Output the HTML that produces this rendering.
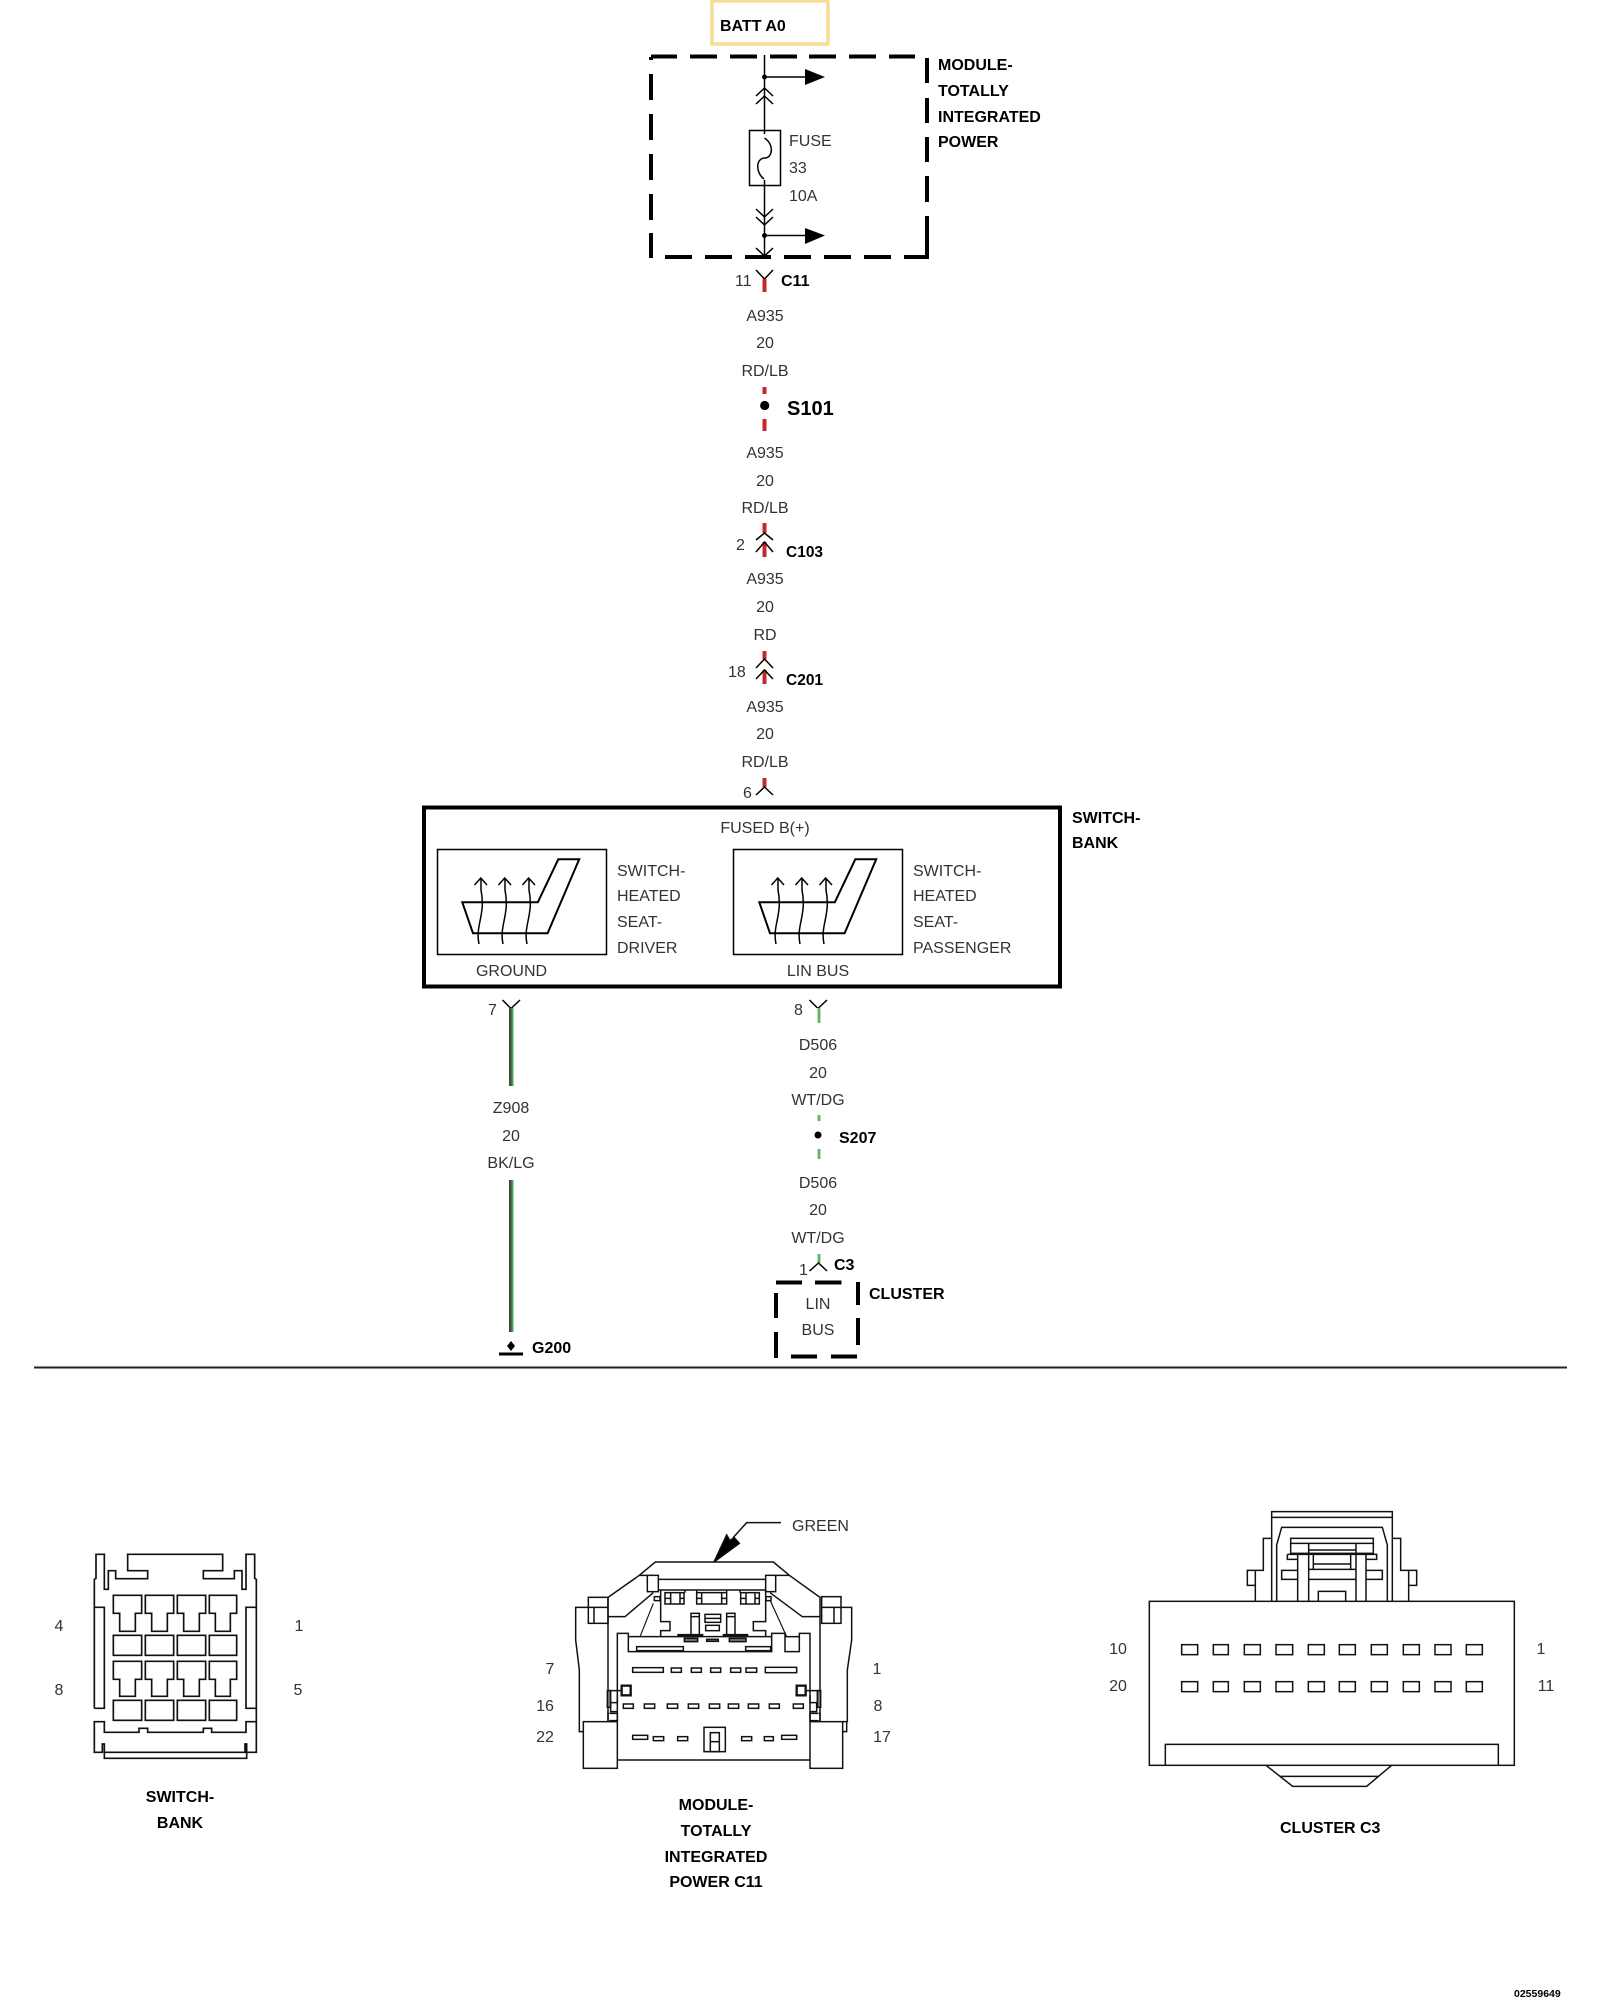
<!DOCTYPE html>
<html><head><meta charset="utf-8"><style>
html,body{margin:0;padding:0;background:#fff}
svg{display:block}
text{font-family:"Liberation Sans",sans-serif}
.r{font-size:16px;fill:#333}
.b{font-size:16px;font-weight:bold;fill:#000}
.m{text-anchor:middle}
.l{fill:none;stroke:#000;stroke-width:1.5}
.d{fill:none;stroke:#000;stroke-width:4}
.red{stroke:#c4282c;stroke-width:4;fill:none}
.pg{stroke:#bcdcbc;stroke-width:4;fill:none}
.g{stroke:#4aa552;stroke-width:1.5;fill:none}
.c{fill:none;stroke:#111;stroke-width:5;stroke-linejoin:miter}
</style></head><body>
<svg width="1600" height="2000" viewBox="0 0 1600 2000" xmlns="http://www.w3.org/2000/svg">
<rect width="1600" height="2000" fill="#fff"/>

<!-- BATT -->
<rect x="712" y="1" width="116" height="43" fill="#fff" stroke="#f6dd95" stroke-width="3.5"/>
<text class="b" x="720" y="31">BATT A0</text>

<!-- Module dashed -->
<path class="d" d="M651 56.5H677M690 56.5H717M730 56.5H757M770 56.5H797M809 56.5H836M849 56.5H876M889 56.5H915"/>
<path class="d" d="M651 57V60M651 74V100M651 114V140M651 154V180M651 194V220M651 233V258"/>
<path class="d" d="M665 257H692M705 257H732M745 257H771M784 257H811M824 257H851M864 257H891M904 257H929"/>
<path class="d" d="M927 58V83M927 98V123M927 137V162M927 176V202M927 216V258"/>
<text class="b" x="938" y="70">MODULE-</text>
<text class="b" x="938" y="96">TOTALLY</text>
<text class="b" x="938" y="122">INTEGRATED</text>
<text class="b" x="938" y="147">POWER</text>

<!-- Fuse assembly -->
<path class="l" d="M764.5 55V134M764.5 180V256"/>
<circle cx="764.5" cy="77" r="2.5"/><circle cx="764.5" cy="235.5" r="2.5"/>
<path class="l" d="M764.5 77H806M764.5 235.5H806"/>
<path d="M805 69L825 77L805 85Z"/><path d="M805 228L825 235.5L805 244Z"/>
<path class="l" d="M756 96L764.5 88L773 96M756 104L764.5 96L773 104"/>
<path class="l" d="M756 209L764.5 217L773 209M756 217L764.5 225L773 217"/>
<path class="l" d="M756 248L764.5 256L773 248"/>
<rect class="l" x="749.5" y="130.5" width="31" height="55"/>
<path class="l" d="M764.5 138C775 145 772 158 765 158C756 158 755 172 764 179"/>
<text class="r" x="789" y="146">FUSE</text>
<text class="r" x="789" y="173">33</text>
<text class="r" x="789" y="201">10A</text>

<!-- Main red wire -->
<path class="l" d="M756 270L764.5 279L773 270"/>
<path class="red" d="M764.5 279V292M764.5 387V394M764.5 419V431M764.5 523V533M764.5 542V557M764.5 651V659M764.5 670V684M764.5 778V787"/>
<text class="r" x="735" y="286">11</text><text class="b" x="781" y="286">C11</text>
<text class="r m" x="765" y="321">A935</text>
<text class="r m" x="765" y="348">20</text>
<text class="r m" x="765" y="376">RD/LB</text>
<circle cx="764.7" cy="405.5" r="4.6"/>
<text x="787" y="415" style="font-size:20px;font-weight:bold">S101</text>
<text class="r m" x="765" y="458">A935</text>
<text class="r m" x="765" y="486">20</text>
<text class="r m" x="765" y="513">RD/LB</text>
<path class="l" d="M756 540L764.5 533L773 540M756 552L764.5 542L773 552"/>
<text class="r" x="736" y="550">2</text>
<text class="b" x="786" y="557" style="font-size:15.5px">C103</text>
<text class="r m" x="765" y="584">A935</text>
<text class="r m" x="765" y="612">20</text>
<text class="r m" x="765" y="640">RD</text>
<path class="l" d="M756 668L764.5 659L773 668M756 679L764.5 670L773 679"/>
<text class="r" x="728" y="677">18</text>
<text class="b" x="786" y="685" style="font-size:15.5px">C201</text>
<text class="r m" x="765" y="712">A935</text>
<text class="r m" x="765" y="739">20</text>
<text class="r m" x="765" y="767">RD/LB</text>
<path class="l" d="M756 795L764.5 787L773 795"/>
<text class="r" x="743" y="798">6</text>

<!-- Switch bank box -->
<rect x="424" y="807.500" width="636" height="179" fill="none" stroke="#000" stroke-width="4"/>
<text class="r m" x="765" y="833">FUSED B(+)</text>
<text class="b" x="1072" y="823">SWITCH-</text>
<text class="b" x="1072" y="848">BANK</text>
<rect class="l" x="437.500" y="849.500" width="169" height="105"/>
<rect class="l" x="733.500" y="849.500" width="169" height="105"/>
<g transform="translate(-1 0)">
<path fill="none" stroke="#000" stroke-width="2" d="M463.3 902.3H538.800L559.300 859.300H580.200L548.600 933.300H474Z"/>
<path class="l" d="M480 944C476 925 487 915 482 890V878M475.500 885L481.800 878L488 885"/>
<path class="l" d="M504 944C500 925 511 915 506 890V878M499.500 885L505.700 878L512 885"/>
<path class="l" d="M528 944C524 925 535 915 530 890V878M523.500 885L529.600 878L536 885"/>
</g>
<g transform="translate(296 0)">
<path fill="none" stroke="#000" stroke-width="2" d="M463.3 902.3H538.800L559.300 859.300H580.200L548.600 933.300H474Z"/>
<path class="l" d="M480 944C476 925 487 915 482 890V878M475.500 885L481.800 878L488 885"/>
<path class="l" d="M504 944C500 925 511 915 506 890V878M499.500 885L505.700 878L512 885"/>
<path class="l" d="M528 944C524 925 535 915 530 890V878M523.500 885L529.600 878L536 885"/>
</g>
<text class="r" x="617" y="876">SWITCH-</text>
<text class="r" x="617" y="901">HEATED</text>
<text class="r" x="617" y="927">SEAT-</text>
<text class="r" x="617" y="953">DRIVER</text>
<text class="r" x="913" y="876">SWITCH-</text>
<text class="r" x="913" y="901">HEATED</text>
<text class="r" x="913" y="927">SEAT-</text>
<text class="r" x="913" y="953">PASSENGER</text>
<text class="r m" x="511.500" y="976">GROUND</text>
<text class="r m" x="818" y="976">LIN BUS</text>

<!-- Ground wire -->
<path class="l" d="M502.500 1000L511 1008.500L520 1000"/>
<text class="r" x="488" y="1015">7</text>
<rect x="509" y="1008" width="2.500" height="78" fill="#3f4a40"/><rect x="511.500" y="1008" width="2" height="78" fill="#4aa552"/>
<text class="r m" x="511" y="1113">Z908</text>
<text class="r m" x="511" y="1141">20</text>
<text class="r m" x="511" y="1168">BK/LG</text>
<rect x="509" y="1180" width="2.500" height="152" fill="#3f4a40"/><rect x="511.500" y="1180" width="2" height="152" fill="#4aa552"/>
<path d="M511 1341L515 1346L511 1351L507 1346Z"/>
<path d="M499 1354H523" stroke="#000" stroke-width="3"/>
<text class="b" x="532" y="1353">G200</text>

<!-- LIN wire -->
<path class="l" d="M809.500 1000L818 1008.500L827 1000"/>
<path class="pg" d="M819 1008V1023M819 1115V1121M819 1149V1159M819 1254V1263"/>
<path class="g" d="M819 1008V1023M819 1115V1121M819 1149V1159M819 1254V1263"/>
<text class="r" x="794" y="1015">8</text>
<text class="r m" x="818" y="1050">D506</text>
<text class="r m" x="818" y="1078">20</text>
<text class="r m" x="818" y="1105">WT/DG</text>
<circle cx="818" cy="1135" r="3.500"/>
<text class="b" x="839" y="1143">S207</text>
<text class="r m" x="818" y="1188">D506</text>
<text class="r m" x="818" y="1215">20</text>
<text class="r m" x="818" y="1243">WT/DG</text>
<path class="l" d="M809.500 1271L818.500 1263L827 1271"/>
<text class="r" x="799" y="1275">1</text>
<text class="b" x="834" y="1270">C3</text>
<path class="d" d="M776 1282.500H802M815 1282.500H841.500M858 1282V1305M858 1318V1345M776 1293V1318M776 1332V1358M791 1356.500H817M831 1356.500H857"/>
<text class="r m" x="818" y="1309">LIN</text>
<text class="r m" x="818" y="1335">BUS</text>
<text class="b" x="869" y="1299">CLUSTER</text>

<!-- Divider -->
<path d="M34 1367.500H1567" stroke="#222" stroke-width="2"/>

<!-- Switch-bank connector -->
<g transform="translate(60 1520) scale(.33333)" class="c">
<path d="M103 565V178L108 175V103H133V208H145V152H167V176H263V152H203V103H488V152H430V176H523V152H546V208H558V103H584V175L589 178V697H560V672H555V697H133V672H127V697H103V605H133V637H237V625H263V637H430V625H455V637H558V605H589"/>
<path d="M133 697V715H560V697"/>
<path d="M103 262H133V565H103M589 262H558V565H589"/>
<path d="M160 226H245V280H226V334H179V280H160Z"/>
<path d="M256 226H341V280H322V334H275V280H256Z"/>
<path d="M352 226H437V280H418V334H371V280H352Z"/>
<path d="M448 226H530V280H511V334H466V280H448Z"/>
<path d="M160 424H245V478H226V529H179V478H160Z"/>
<path d="M256 424H341V478H322V529H275V478H256Z"/>
<path d="M352 424H437V478H418V529H371V478H352Z"/>
<path d="M448 424H530V478H511V529H466V478H448Z"/>
<rect x="160" y="346" width="85" height="60"/><rect x="256" y="346" width="85" height="60"/><rect x="352" y="346" width="85" height="60"/><rect x="448" y="346" width="82" height="60"/>
<rect x="160" y="541" width="85" height="60"/><rect x="256" y="541" width="85" height="60"/><rect x="352" y="541" width="85" height="60"/><rect x="448" y="541" width="82" height="60"/>
</g>
<text class="r m" x="59" y="1631">4</text>
<text class="r m" x="59" y="1695">8</text>
<text class="r m" x="299" y="1631">1</text>
<text class="r m" x="298" y="1695">5</text>
<text class="b m" x="180" y="1802">SWITCH-</text>
<text class="b m" x="180" y="1828">BANK</text>

<!-- Module C11 connector -->
<g transform="translate(540 1500) scale(.33333)" class="c" style="stroke-width:4.500px">
<path d="M204 665V292L298 226L346 186H700L748 226L840 292V665"/>
<path d="M298 226H322M707 226H748"/>
<rect x="322" y="226" width="33" height="49"/><rect x="677" y="226" width="30" height="49"/>
<path d="M355 238H677M355 270H677"/>
<path d="M204 350H255L340 278M840 350H787L690 278"/>
<path d="M145 322H107V420L118 510V695H130"/>
<rect x="145" y="292" width="59" height="78"/><path d="M162 322V370M145 322H204"/>
<rect x="845" y="290" width="58" height="80"/><path d="M882 322V370M845 322H903"/>
<path d="M903 322H935V420L922 510V665H920V695H908M908 665H920"/>
<rect x="130" y="665" width="102" height="140"/><rect x="810" y="665" width="98" height="140"/>
<path d="M232 780H810"/>
<path d="M232 665V400H265V455H695V400H735V455H778V400H810V665"/>
<path d="M265 410H695"/><path d="M735 410H778"/>
<path d="M300 410L340 310M740 410L690 300" stroke-width="3.500"/>
<rect x="343" y="290" width="17" height="12"/><rect x="678" y="290" width="15" height="12"/>
<rect x="290" y="440" width="140" height="12"/><rect x="617" y="440" width="75" height="12"/>
<path d="M362 270V365H390V392H362V408M677 270V365H640V392H677V408"/>
<rect x="375" y="278" width="57" height="34"/><path d="M392 278V312M420 278V312M375 295H392M420 295H432"/>
<rect x="602" y="278" width="56" height="34"/><path d="M618 278V312M645 278V312M602 295H618M645 295H658"/>
<path d="M435 270V278M470 270V312H560V270M485 278V312M545 278V312M470 278H560M470 295H485M545 295H560M600 270V278"/>
<rect x="453" y="340" width="25" height="68"/><rect x="560" y="340" width="25" height="68"/>
<path d="M453 350H478M560 350H585"/>
<rect x="495" y="343" width="47" height="24"/><rect x="497" y="376" width="41" height="16"/>
<path d="M495 355H542"/>
<rect x="433" y="415" width="40" height="10" fill="#777"/><rect x="500" y="418" width="35" height="6" fill="#777"/><rect x="568" y="415" width="50" height="10" fill="#777"/>
<path d="M412 405H490M548 405H625" stroke-width="7"/>
<rect x="278" y="503" width="92" height="14"/><rect x="394" y="504" width="30" height="13"/><rect x="454" y="504" width="30" height="13"/><rect x="512" y="504" width="30" height="13"/><rect x="572" y="504" width="30" height="13"/><rect x="618" y="504" width="32" height="13"/><rect x="676" y="502" width="94" height="16"/>
<rect x="250" y="612" width="30" height="13"/><rect x="313" y="612" width="31" height="13"/><rect x="382" y="612" width="31" height="13"/><rect x="445" y="612" width="31" height="13"/><rect x="508" y="612" width="31" height="13"/><rect x="565" y="612" width="31" height="13"/><rect x="625" y="612" width="31" height="13"/><rect x="688" y="612" width="30" height="13"/><rect x="760" y="612" width="30" height="13"/>
<rect x="278" y="706" width="45" height="12"/><rect x="340" y="710" width="31" height="12"/><rect x="413" y="710" width="30" height="12"/><rect x="605" y="710" width="30" height="12"/><rect x="673" y="710" width="27" height="12"/><rect x="725" y="706" width="45" height="12"/>
<rect x="492" y="682" width="64" height="73"/><rect x="511" y="698" width="27" height="57"/><path d="M511 725H538"/>
<rect x="245" y="557" width="27" height="29" stroke-width="7"/>
<rect x="770" y="557" width="27" height="29" stroke-width="7"/>
<path d="M204 572H243M232 586V608H212V635H232M204 635V665M208 640H232V662H208"/>
<path d="M840 572H797M810 586V608H830V635H810M840 635V665M836 640H810V662H836"/>
<rect x="202" y="572" width="10" height="50" fill="#777"/><rect x="832" y="572" width="10" height="50" fill="#777"/>
<path d="M580 112L620 68H723"/>
<path d="M522 186L560 105L570 122L582 112L598 130Z" fill="#000"/>
</g>
<text class="r" x="792" y="1531">GREEN</text>
<text class="r m" x="550" y="1674">7</text>
<text class="r m" x="545" y="1711">16</text>
<text class="r m" x="545" y="1742">22</text>
<text class="r m" x="877" y="1674">1</text>
<text class="r m" x="878" y="1711">8</text>
<text class="r m" x="882" y="1742">17</text>
<text class="b m" x="716" y="1810">MODULE-</text>
<text class="b m" x="716" y="1836">TOTALLY</text>
<text class="b m" x="716" y="1862">INTEGRATED</text>
<text class="b m" x="716" y="1887">POWER C11</text>

<!-- Cluster C3 connector -->
<g transform="translate(1130 1500) scale(.33333)" class="c" style="stroke-width:4.500px">
<rect x="58" y="304" width="1095" height="492"/>
<path d="M106 796V733H1105V796"/>
<path d="M408 796L488 859H710L785 796M450 829H745"/>
<path d="M425 304V35H787V304M425 52H787"/>
<path d="M440 304V135L455 82H757L772 135V304"/>
<path d="M376 304V211H400V115H425M376 256H352V211H376"/>
<path d="M836 304V211H812V115H787M836 256H860V211H836"/>
<path d="M503 211H455V238H503M708 211H757V238H708"/>
<rect x="482" y="115" width="248" height="45"/><path d="M482 130H730"/>
<path d="M472 163H740V178H708M503 178H472V163"/>
<path d="M503 163V304M708 163V304M536 130V304M678 130V304"/>
<path d="M536 150H678M550 163V208M662 163V208M550 192H662M536 208H678M536 238H678"/>
<path d="M565 304V274H647V304"/>
<rect x="155" y="434" width="48" height="30"/><rect x="250" y="434" width="45" height="30"/><rect x="343" y="434" width="48" height="30"/><rect x="438" y="434" width="50" height="30"/><rect x="535" y="434" width="48" height="30"/><rect x="628" y="434" width="48" height="30"/><rect x="724" y="434" width="48" height="30"/><rect x="820" y="434" width="48" height="30"/><rect x="915" y="434" width="48" height="30"/><rect x="1009" y="434" width="48" height="30"/>
<rect x="155" y="545" width="48" height="30"/><rect x="250" y="545" width="45" height="30"/><rect x="343" y="545" width="48" height="30"/><rect x="438" y="545" width="50" height="30"/><rect x="535" y="545" width="48" height="30"/><rect x="628" y="545" width="48" height="30"/><rect x="724" y="545" width="48" height="30"/><rect x="820" y="545" width="48" height="30"/><rect x="915" y="545" width="48" height="30"/><rect x="1009" y="545" width="48" height="30"/>
</g>
<text class="r m" x="1118" y="1654">10</text>
<text class="r m" x="1118" y="1691">20</text>
<text class="r m" x="1541" y="1654">1</text>
<text class="r m" x="1546" y="1691">11</text>
<text class="b" x="1280" y="1833">CLUSTER C3</text>
<text x="1514" y="1997" style="font-size:10.500px;font-weight:bold">02559649</text>
</svg>
</body></html>
